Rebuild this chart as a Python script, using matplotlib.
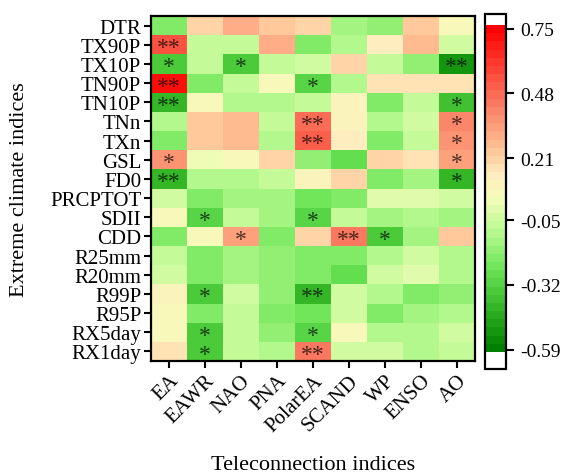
import numpy as np
import matplotlib
matplotlib.use("Agg")
import matplotlib.pyplot as plt
from matplotlib.colors import LinearSegmentedColormap, BoundaryNorm

plt.rcParams['font.family'] = ['Liberation Serif', 'DejaVu Serif']

climate_indices = ["DTR", "TX90P", "TX10P", "TN90P", "TN10P", "TNn", "TXn", "GSL", "FD0",
                   "PRCPTOT", "SDII", "CDD", "R25mm", "R20mm", "R99P", "R95P", "RX5day", "RX1day"]
teleconnections = ["EA", "EAWR", "NAO", "PNA", "PolarEA", "SCAND", "WP", "ENSO", "AO"]

# correlation coefficients (rows: climate indices, columns: teleconnection indices)
corr = np.array([
    [-0.20,  0.20,  0.30,  0.22,  0.20, -0.15, -0.18,  0.25,  0.08],   # DTR
    [ 0.55, -0.06, -0.08,  0.30, -0.20, -0.10,  0.12,  0.28, -0.05],   # TX90P
    [-0.33, -0.06, -0.35, -0.08, -0.05,  0.20, -0.06, -0.18, -0.52],   # TX10P
    [ 0.72, -0.20, -0.06,  0.05, -0.30, -0.10,  0.17,  0.17,  0.17],   # TN90P
    [-0.42,  0.05, -0.10, -0.10, -0.08,  0.10, -0.20, -0.08, -0.38],   # TN10P
    [-0.12,  0.22,  0.27, -0.06,  0.47,  0.10, -0.10, -0.05,  0.40],   # TNn
    [-0.20,  0.22,  0.28, -0.10,  0.50,  0.12, -0.22, -0.08,  0.38],   # TXn
    [ 0.38,  0.02,  0.06,  0.20, -0.18, -0.27,  0.20,  0.18,  0.35],   # GSL
    [-0.40, -0.10, -0.12, -0.06,  0.10,  0.20, -0.22, -0.15, -0.40],   # FD0
    [-0.05, -0.20, -0.15, -0.15, -0.25, -0.20,  0.00,  0.00, -0.05],   # PRCPTOT
    [ 0.05, -0.30, -0.08, -0.15, -0.30, -0.08, -0.15, -0.10, -0.15],   # SDII
    [-0.20,  0.08,  0.35, -0.20,  0.20,  0.45, -0.33, -0.15,  0.25],   # CDD
    [-0.06, -0.20, -0.15, -0.18, -0.20, -0.20, -0.10, -0.05, -0.10],   # R25mm
    [-0.05, -0.20, -0.15, -0.18, -0.22, -0.27, -0.05,  0.00, -0.10],   # R20mm
    [ 0.10, -0.33, -0.05, -0.18, -0.42, -0.03, -0.10, -0.20, -0.18],   # R99P
    [ 0.08, -0.22, -0.08, -0.20, -0.25, -0.05, -0.22, -0.15, -0.10],   # R95P
    [ 0.08, -0.35, -0.06, -0.18, -0.30,  0.08, -0.12, -0.10, -0.05],   # RX5day
    [ 0.18, -0.35, -0.08, -0.12,  0.45, -0.05, -0.05, -0.12, -0.08],   # RX1day
])

# significance marks (* p<0.05, ** p<0.01)
signif = [
    ["", "", "", "", "", "", "", "", ""],
    ["**", "", "", "", "", "", "", "", ""],
    ["*", "", "*", "", "", "", "", "", "**"],
    ["**", "", "", "", "*", "", "", "", ""],
    ["**", "", "", "", "", "", "", "", "*"],
    ["", "", "", "", "**", "", "", "", "*"],
    ["", "", "", "", "**", "", "", "", "*"],
    ["*", "", "", "", "", "", "", "", "*"],
    ["**", "", "", "", "", "", "", "", "*"],
    ["", "", "", "", "", "", "", "", ""],
    ["", "*", "", "", "*", "", "", "", ""],
    ["", "", "*", "", "", "**", "*", "", ""],
    ["", "", "", "", "", "", "", "", ""],
    ["", "", "", "", "", "", "", "", ""],
    ["", "*", "", "", "**", "", "", "", ""],
    ["", "", "", "", "", "", "", "", ""],
    ["", "*", "", "", "*", "", "", "", ""],
    ["", "*", "", "", "**", "", "", "", ""],
]

cbar_ticks = [-0.59, -0.32, -0.05, 0.21, 0.48, 0.75]

vmin, vmax = -0.60, 0.765
anchors = [
    (-0.60, (0/255, 128/255, 0/255)),
    (-0.42, (55/255, 185/255, 40/255)),
    (-0.27, (105/255, 228/255, 85/255)),
    (-0.10, (185/255, 250/255, 145/255)),
    ( 0.04, (245/255, 252/255, 185/255)),
    ( 0.14, (255/255, 236/255, 190/255)),
    ( 0.25, (255/255, 196/255, 150/255)),
    ( 0.45, (250/255, 120/255, 95/255)),
    ( 0.765, (255/255, 0/255, 0/255)),
]
cmap = LinearSegmentedColormap.from_list(
    "gyr", [((v - vmin) / (vmax - vmin), c) for v, c in anchors])
cmap.set_over("white")
cmap.set_under("white")
levels = np.linspace(vmin, vmax, 41)
norm = BoundaryNorm(levels, cmap.N)

fig = plt.figure(figsize=(5.73, 4.77), dpi=100)
W, H = 573, 477
ax = fig.add_axes([151 / W, 1 - 362 / H, 324 / W, 345 / H])

nr, nc = corr.shape
ax.pcolormesh(np.arange(nc + 1), np.arange(nr + 1), corr, cmap=cmap, norm=norm)
ax.set_xlim(0, nc)
ax.set_ylim(nr, 0)

for i in range(nr):
    for j in range(nc):
        if signif[i][j]:
            ax.text(j + 0.5, i + 0.66, signif[i][j], ha="center", va="center",
                    fontsize=17, color="black", alpha=0.7)

ax.set_xticks(np.arange(nc) + 0.5)
ax.set_xticklabels(teleconnections, rotation=45, ha="right", rotation_mode="anchor",
                   fontsize=15)
ax.set_yticks(np.arange(nr) + 0.5)
ax.set_yticklabels(climate_indices, fontsize=15)
ax.tick_params(axis="both", direction="out", length=5, width=1.5, color="black", pad=2)
for s in ax.spines.values():
    s.set_linewidth(1.6)
ax.set_xlabel("Teleconnection indices", fontsize=16, va="center")
ax.xaxis.set_label_coords(0.5, -(466 - 362) / 345)
ax.set_ylabel("Extreme climate indices", fontsize=16, va="center")
ax.yaxis.set_label_coords(-(151 - 20) / 324, 0.5)

cax = fig.add_axes([485 / W, 1 - 370 / H, 21 / W, 355 / H])
cb = fig.colorbar(plt.cm.ScalarMappable(norm=norm, cmap=cmap), cax=cax,
                  extend="both", extendrect=True, extendfrac=[0.052, 0.034],
                  ticks=cbar_ticks, drawedges=False)
cb.ax.set_yticklabels([f"{t:.2f}" for t in cbar_ticks], fontsize=14)
cb.ax.tick_params(direction="out", length=6, width=1.5, pad=4)
cb.ax.minorticks_off()
cb.outline.set_linewidth(1.6)

fig.savefig("out.png", dpi=100)
